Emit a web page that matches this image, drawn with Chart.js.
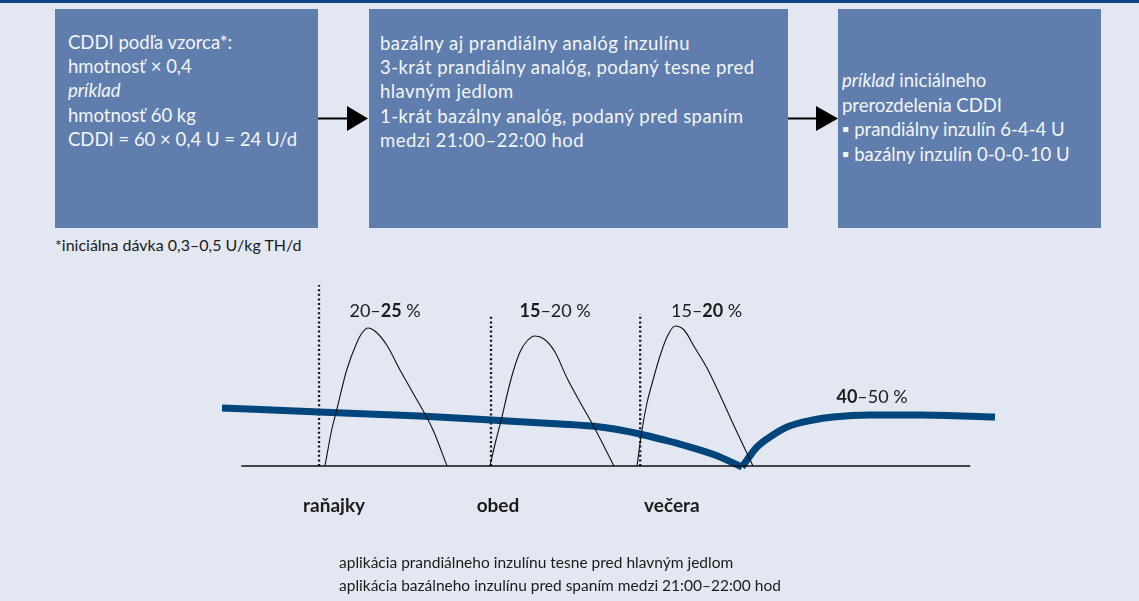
<!DOCTYPE html>
<html>
<head>
<meta charset="utf-8">
<script src="https://cdn.jsdelivr.net/npm/chart.js@4.4.1/dist/chart.umd.min.js"></script>
<style>
  html, body { margin: 0; padding: 0; }
  body {
    width: 1139px; height: 601px; overflow: hidden; position: relative;
    background: #e2e7f1; font-family: Lato, "Noto Sans", sans-serif;
  }
  .topbar { position: absolute; left: 0; top: 0; width: 1139px; height: 3px; background: #0a4680; }
  .box { position: absolute; top: 9px; height: 219px; background: #5f7ead; }
  .txt { position: absolute; color: #f3f5f9; font-size: 18.5px; line-height: 24.4px; white-space: nowrap; }
  .note { position: absolute; color: #1b1b1b; font-size: 16px; white-space: nowrap; line-height: 1; }
  .lbl { position: absolute; color: #1b1b1b; white-space: nowrap; line-height: 1; transform: translateX(-50%); }
  #wrap { position: absolute; left: 0; top: 0; width: 1139px; height: 601px; }
  svg { position: absolute; left: 0; top: 0; }
</style>
</head>
<body>
<div class="topbar"></div>
<div class="box" style="left:55px;width:263px"></div>
<div class="box" style="left:369px;width:419px"></div>
<div class="box" style="left:838px;width:263px"></div>

<svg width="1139" height="260">
  <line x1="318" y1="118.5" x2="350" y2="118.5" stroke="#000" stroke-width="2"/>
  <polygon points="347,106 368,118.5 347,131" fill="#000"/>
  <line x1="788" y1="118.5" x2="819" y2="118.5" stroke="#000" stroke-width="2"/>
  <polygon points="816,106 838,118.5 816,131" fill="#000"/>
</svg>

<div class="txt" style="left:68px;top:29.6px">
  CDDI podľa vzorca*:<br>hmotnosť × 0,4<br><i>príklad</i><br>hmotnosť 60 kg<br>CDDI = 60 × 0,4 U = 24 U/d
</div>
<div class="txt" style="left:380px;top:30.6px;letter-spacing:0.45px">
  bazálny aj prandiálny analóg inzulínu<br>3-krát prandiálny analóg, podaný tesne pred<br>hlavným jedlom<br>1-krát bazálny analóg, podaný pred spaním<br>medzi 21:00–22:00 hod
</div>
<div class="txt" style="left:842px;top:68.3px">
  <i>príklad</i> iniciálneho<br>prerozdelenia CDDI<br>▪ prandiálny inzulín 6-4-4 U<br>▪ bazálny inzulín 0-0-0-10 U
</div>
<div class="note" style="left:55px;top:236.5px">*iniciálna dávka 0,3–0,5 U/kg TH/d</div>

<div id="wrap"><canvas id="insulin" width="1139" height="601"></canvas></div>

<div class="note" style="left:339px;top:550.5px;line-height:23px;font-size:15.5px">
  aplikácia prandiálneho inzulínu tesne pred hlavným jedlom<br>aplikácia bazálneho inzulínu pred spaním medzi 21:00–22:00 hod
</div>

<script>
// x: 0..100 across the time line, y: 0..100 insulin level
const baseLineX = [2.5, 96.8];

const mealX = [12.55, 34.8, 54.1];          // dotted injection marks
const mealTop = [90.5, 75, 76];

const breakfastX = [13.32, 14.19, 14.84, 16.13, 17.43, 18.11, 18.89, 19.92, 21.31, 23.03, 24.71, 27.30, 29.11];
const breakfastY = [0, 18, 28, 48, 61.5, 66.5, 69, 67, 60.5, 48, 36.5, 18, 0];

const lunchX = [34.67, 35.45, 36.22, 36.87, 37.65, 38.55, 39.46, 40.49, 41.66, 43.08, 44.63, 46.31, 47.99, 50.71];
const lunchY = [0, 13, 24.5, 35.5, 47, 57, 62.5, 65, 63.5, 57, 44, 32, 20.5, 0];

const dinnerX = [53.69, 54.33, 54.98, 55.76, 56.66, 57.57, 58.60, 59.77, 61.19, 62.74, 64.42, 66.49, 68.69];
const dinnerY = [0, 18, 31.5, 43, 55, 64.5, 70, 68, 59, 49, 35.5, 18, 0];

const basalDownX = [0, 12.55, 25.61, 34.80, 43.73, 48.9, 51.49, 54.07, 56.66, 59.64, 63.78, 67.27];
const basalDownY = [29, 27, 25, 23, 21, 19.5, 18, 16, 13.5, 10.5, 5.5, -0.5];
const basalUpX = [67.27, 69.21, 71.28, 73.09, 76.46, 79.04, 83.83, 90.3, 100];
const basalUpY = [-0.5, 9.5, 15.5, 19.5, 23, 24.5, 25.5, 25.5, 24.5];

const meals = ['raňajky', 'obed', 'večera'];
const mealLabelX = [14.5, 35.7, 58.2];

// dose shares: [low, high, which part is bold]
const shareText = [['20', '25', 1], ['15', '20', 0], ['15', '20', 1], ['40', '50', 0]];
const shareX = [21.1, 43.1, 62.7, 84.1];
const shareY = [74.5, 74.5, 74.5, 31.5];

function pts(xs, ys) { return xs.map((x, i) => ({ x: x, y: ys[i] })); }

function thin(data) {
    return { data: data, borderColor: '#111', borderWidth: 1.1, pointRadius: 0,
             cubicInterpolationMode: 'monotone', clip: false };
}

const datasets = [
    { data: pts(baseLineX, [0, 0]), borderColor: '#111', borderWidth: 1.4, pointRadius: 0, clip: false },
    thin(pts(breakfastX, breakfastY)),
    thin(pts(lunchX, lunchY)),
    thin(pts(dinnerX, dinnerY)),
    { data: pts(basalDownX, basalDownY), borderColor: '#00457c', borderWidth: 7, pointRadius: 0,
      cubicInterpolationMode: 'monotone', clip: false },
    { data: pts(basalUpX, basalUpY), borderColor: '#00457c', borderWidth: 7, pointRadius: 0,
      cubicInterpolationMode: 'monotone', clip: false },
];
mealX.forEach((x, i) => {
    datasets.push({ data: [{ x: x, y: 0 }, { x: x, y: mealTop[i] }], borderColor: '#111',
                    borderWidth: 2.3, borderDash: [2, 2.6], pointRadius: 0, clip: false });
});

// place the html labels from the chart's scales
const labelPlugin = {
    id: 'labels',
    afterRender(chart) {
        if (chart.$placed) return;
        chart.$placed = true;
        const sx = chart.scales.x, sy = chart.scales.y;
        const add = (html, x, y, size, bold) => {
            const d = document.createElement('div');
            d.className = 'lbl';
            d.innerHTML = html;
            d.style.fontSize = size + 'px';
            if (bold) d.style.fontWeight = 'bold';
            d.style.left = sx.getPixelForValue(x) + 'px';
            d.style.top = (sy.getPixelForValue(y) - size * 0.89) + 'px';
            document.body.appendChild(d);
        };
        shareText.forEach((s, i) => {
            const a = s[2] === 0 ? '<b>' + s[0] + '</b>' : s[0];
            const b = s[2] === 1 ? '<b>' + s[1] + '</b>' : s[1];
            add(a + '–' + b + ' %', shareX[i], shareY[i], 18, false);
        });
        meals.forEach((m, i) => add(m, mealLabelX[i], -23, 19, true));
    }
};

new Chart(document.getElementById('insulin').getContext('2d'), {
    type: 'line',
    data: { datasets: datasets },
    options: {
        responsive: false,
        animation: false,
        layout: { padding: { left: 222, right: 144, top: 266, bottom: 135 } },
        scales: {
            x: { type: 'linear', display: false, min: 0, max: 100 },
            y: { display: false, min: 0, max: 100 }
        },
        plugins: { legend: { display: false }, tooltip: { enabled: false } },
    },
    plugins: [labelPlugin]
});
</script>
</body>
</html>
